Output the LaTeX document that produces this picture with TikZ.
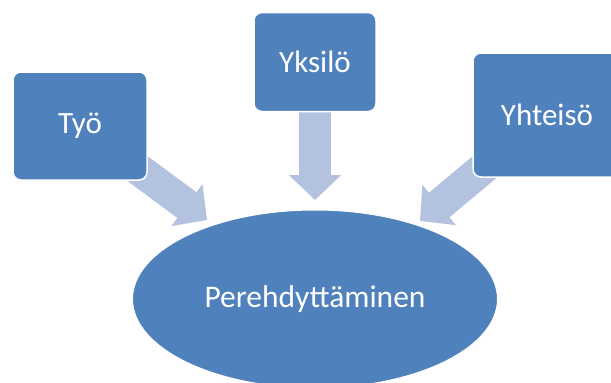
\documentclass[tikz,border=0pt]{standalone}
\usepackage{fontspec}
\setmainfont{Carlito}
\usetikzlibrary{positioning,arrows.meta,shapes.geometric,backgrounds}
\definecolor{boxblue}{HTML}{4F81BD}
\definecolor{arrowblue}{HTML}{B3C3DF}

\begin{document}
\begin{tikzpicture}[x=1pt,y=-1pt,
		box/.style={rectangle, rounded corners=8pt, fill=boxblue, draw=white, line width=1.5pt, text=white, font=\fontsize{31}{37}\selectfont},
		blockarrow/.style={draw=arrowblue, line width=32pt, -{Triangle[length=25pt,width=51pt]}}]
		\useasboundingbox (0,0) rectangle (611,383);
		\node[box, minimum width=134pt, minimum height=108pt] (tyo) at (80,126) {Työ};
		\node[box, minimum width=122pt, minimum height=99pt] (yksilo) at (315,62) {Yksilö};
		\node[box, minimum width=148pt, minimum height=124pt] (yhteiso) at (547,115) {Yhteisö};
		\node[ellipse, fill=boxblue, draw=white, line width=1pt, minimum width=365pt, minimum height=178pt, text=white, font=\fontsize{31.5}{37}\selectfont] (pere) at (315,299) {Perehdyttäminen};
		\coordinate (tyo kärki) at (207,220);
		\coordinate (yksilo kärki) at (315,200);
		\coordinate (yhteiso kärki) at (420,221);
		\begin{pgfonlayer}{background}
			\draw[blockarrow] (tyo.center) -- (tyo kärki);
			\draw[blockarrow] (yksilo.center) -- (yksilo kärki);
			\draw[blockarrow] (yhteiso.center) -- (yhteiso kärki);
		\end{pgfonlayer}
	\end{tikzpicture}
\end{document}
